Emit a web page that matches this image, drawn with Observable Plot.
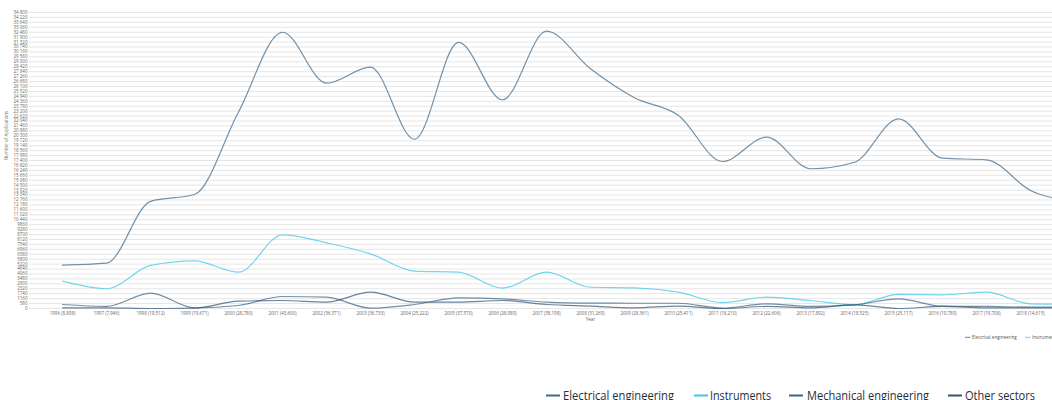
<!DOCTYPE html>
<html><head><meta charset="utf-8">
<script src="https://cdn.jsdelivr.net/npm/d3@7"></script>
<script src="https://cdn.jsdelivr.net/npm/@observablehq/plot@0.6"></script>
<style>
html,body{margin:0;padding:0;background:#fff;overflow:hidden;width:1052px;height:400px;}
#wrap{position:relative;width:1052px;height:400px;overflow:hidden;font-family:"Open Sans",sans-serif;}
#chart{position:absolute;left:0;top:0;width:1160px;}
#chart svg{max-width:none !important;width:1160px;height:345px;}
#legendSmall,#legendBig{position:absolute;left:0;top:0;}
</style></head><body>
<div id="wrap"><div id="chart"></div><svg id="legendSmall" width="1052" height="400"></svg><svg id="legendBig" width="1052" height="400"></svg></div>
<script>
const years = ["1996","1997","1998","1999","2000","2001","2002","2003","2004","2005","2006","2007","2008","2009","2010","2011","2012","2013","2014","2015","2016","2017","2018","2019","2020"];
const yearLabels = ["1996 (8,898)","1997 (7,946)","1998 (19,512)","1999 (19,671)","2000 (28,780)","2001 (43,600)","2002 (36,371)","2003 (36,733)","2004 (25,222)","2005 (37,570)","2006 (28,989)","2007 (38,198)","2008 (31,269)","2009 (28,361)","2010 (25,411)","2011 (18,210)","2012 (22,606)","2013 (17,892)","2014 (18,525)","2015 (25,117)","2016 (19,789)","2017 (19,708)","2018 (14,615)","2019 (13,000)","2020 (10,600)"];
const electrical  = [5100,5330,12600,13400,23100,32480,26490,28370,19900,31280,24540,32600,28180,24770,22690,17280,20150,16430,17200,22300,17670,17480,13870,12300,10000];
const instruments = [3210,2320,5060,5610,4270,8660,7720,6430,4390,4270,2390,4270,2500,2430,1920,700,1330,940,440,1650,1610,1920,550,500,450];
const mechanical  = [470,240,1800,80,350,1410,1330,40,470,1250,1130,750,630,620,620,40,550,240,430,1130,270,240,160,150,150];
const other       = [80,80,0,40,860,940,750,1920,750,750,940,470,280,80,280,0,240,80,430,0,240,80,80,80,80];
const seriesNames = ["Electrical engineering","Instruments","Mechanical engineering","Other sectors"];
const seriesColors = ["#3f6a8c","#3cc6ea","#3d6585","#2f5576"];
const yTicks = d3.range(0, 34801, 580);

const seriesValues = [electrical, instruments, mechanical, other];
const data = [];
seriesNames.forEach((s, k) => years.forEach((y, i) => data.push({series: s, year: y, value: seriesValues[k][i]})));

const fmtY = d => d >= 10000 ? d3.format(",")(d).replace(/,/g, " ") : String(d);

const chart = Plot.plot({
  width: 1160, height: 345,
  marginLeft: 29, marginRight: 9, marginTop: 12, marginBottom: 37,
  style: {fontFamily: "'Open Sans', sans-serif", fontSize: "4.5px", color: "#666", background: "#fff", overflow: "visible", maxWidth: "none"},
  x: {type: "point", domain: years, padding: 0.5, label: null},
  y: {domain: [0, 34800], label: null},
  color: {domain: seriesNames, range: seriesColors},
  marks: [
    Plot.gridY(yTicks, {stroke: "#e6e6e6", strokeOpacity: 1}),
    Plot.axisY(yTicks, {tickSize: 0, tickPadding: 2, tickFormat: fmtY, fontSize: 4.5, fill: "#666", label: null}),
    Plot.axisX({tickSize: 0, tickPadding: 3, tickFormat: d => yearLabels[years.indexOf(d)], fontSize: 4.5, fill: "#666", label: null}),
    Plot.lineY(data, {x: "year", y: "value", stroke: "series", curve: "monotone-x", strokeWidth: 1.2, strokeOpacity: 0.72}),
    Plot.text(["Year"], {frameAnchor: "bottom", dy: 12, fontSize: 4.5, fill: "#666"}),
    Plot.text(["Number of Applications"], {frameAnchor: "left", dx: -23, rotate: -90, fontSize: 4.5, fill: "#666"})
  ]
});
chart.style.maxWidth = "none";
document.getElementById("chart").appendChild(chart);

// small legend (inside original chart area, cut at right edge)
const ls = d3.select("#legendSmall");
const smallItems = [{x: 965, tx: 972}, {x: 1025, tx: 1032}];
smallItems.forEach((it, k) => {
  ls.append("line").attr("x1", it.x).attr("x2", it.x + 5.5).attr("y1", 337.3).attr("y2", 337.3)
    .attr("stroke", seriesColors[k]).attr("stroke-width", 0.8);
  ls.append("text").attr("x", it.tx).attr("y", 338.8).attr("font-size", 4.5).attr("fill", "#555")
    .attr("font-family", "'Open Sans', sans-serif").text(seriesNames[k]);
});

// big legend at the bottom
const lb = d3.select("#legendBig");
const bigItems = [
  {sx: 546, tx: 563, w: 111},
  {sx: 694, tx: 710, w: 61},
  {sx: 789, tx: 807, w: 122},
  {sx: 948, tx: 965, w: 70}
];
bigItems.forEach((it, k) => {
  lb.append("line").attr("x1", it.sx).attr("x2", it.sx + 14).attr("y1", 395.5).attr("y2", 395.5)
    .attr("stroke", seriesColors[k]).attr("stroke-width", 2);
  lb.append("text").attr("x", it.tx).attr("y", 400).attr("font-size", 12.5).attr("fill", "#1f2e3d")
    .attr("font-family", "'Open Sans', sans-serif")
    .attr("textLength", it.w).attr("lengthAdjust", "spacingAndGlyphs").text(seriesNames[k]);
});
</script></body></html>
